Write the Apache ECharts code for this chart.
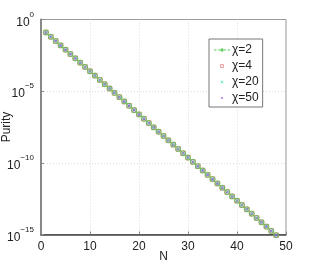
<!DOCTYPE html>
<html><head><meta charset="utf-8">
<script src="https://cdn.jsdelivr.net/npm/echarts@6/dist/echarts.min.js"></script>
<style>html,body{margin:0;padding:0;background:#fff}#c{width:316px;height:265px}</style>
</head><body><div id="c"></div>
<script>
const N = [1,2,3,4,5,6,7,8,9,10,11,12,13,14,15,16,17,18,19,20,21,22,23,24,25,26,27,28,29,30,31,32,33,34,35,36,37,38,39,40,41,42,43,44,45,46,47,48];
const purityChi2 = [0.125,0.0625,0.03125,0.015625,7.8125e-3,3.906e-3,1.953e-3,9.766e-4,4.883e-4,2.441e-4,1.221e-4,6.104e-5,3.052e-5,1.526e-5,7.629e-6,3.815e-6,1.907e-6,9.537e-7,4.768e-7,2.384e-7,1.192e-7,5.960e-8,2.980e-8,1.490e-8,7.451e-9,3.725e-9,1.863e-9,9.313e-10,4.657e-10,2.328e-10,1.164e-10,5.821e-11,2.910e-11,1.455e-11,7.276e-12,3.638e-12,1.819e-12,9.095e-13,4.547e-13,2.274e-13,1.137e-13,5.684e-14,2.842e-14,1.421e-14,7.105e-15,3.553e-15,1.776e-15,8.882e-16];
const purityChi4 = purityChi2.slice();
const purityChi20 = purityChi2.slice();
const purityChi50 = purityChi2.slice();
const seriesNames = ['χ=2','χ=4','χ=20','χ=50'];
const xTicks = [0,10,20,30,40,50];
const yTickExps = ['0','−5','−10','−15'];

const pairs = a => N.map((n,i)=>[n,a[i]]);
const xMark = 'path://M0,1.5L1.5,0L5,3.5L8.5,0L10,1.5L6.5,5L10,8.5L8.5,10L5,6.5L1.5,10L0,8.5L3.5,5Z';
// legend icons in a 16x8 box (corner specks fix the box)
const box = 'M0,0h0.01v0.01h-0.01z M15.99,7.99h0.01v0.01h-0.01z ';
const icon2 = 'path://' + box + 'M0,3.5h2.5v1h-2.5z M4,3.5h2v1h-2z M10,3.5h2v1h-2z M13.5,3.5h2.5v1h-2.5z M6.3,4a1.7,1.7 0 1,0 3.4,0a1.7,1.7 0 1,0 -3.4,0z';
const icon4 = 'path://' + box + 'M6.3,2.3h3.4v3.4h-3.4z M7.1,3.1v1.8h1.8v-1.8z';
const icon20 = 'path://' + box + 'M6.5,3L7,2.5L8,3.5L9,2.5L9.5,3L8.5,4L9.5,5L9,5.5L8,4.5L7,5.5L6.5,5L7.5,4z';
const icon50 = 'path://' + box + 'M7.1,4a0.9,0.9 0 1,0 1.8,0a0.9,0.9 0 1,0 -1.8,0z';

const chart = echarts.init(document.getElementById('c'));
const font = 'Liberation Sans, Arial, sans-serif';
chart.setOption({
  animation:false,
  textStyle:{fontFamily:font},
  grid:{left:41,right:30,top:19.5,bottom:30.5,outerBoundsMode:'none',containLabel:false,show:true,borderColor:'#999',borderWidth:1,backgroundColor:'#fff'},
  xAxis:{type:'value',min:0,max:50,interval:10,
    name:'N',nameLocation:'middle',nameGap:16,nameMoveOverlap:false,nameTextStyle:{color:'#222',fontSize:12},
    axisLine:{show:true,lineStyle:{color:'#444',width:1.5}},
    axisTick:{inside:true,length:3,lineStyle:{color:'#888'}},
    axisLabel:{color:'#222',fontSize:12,margin:6,formatter:v=>xTicks.includes(v)?String(v):''},
    splitLine:{show:true,showMinLine:false,showMaxLine:false,lineStyle:{color:'#ddd',type:[1,2],width:1}}},
  yAxis:{type:'log',logBase:10,min:1e-15,max:1,interval:5,
    name:'Purity',nameLocation:'middle',nameGap:28,nameMoveOverlap:false,nameTextStyle:{color:'#222',fontSize:12},
    axisLine:{show:true,lineStyle:{color:'#888',width:2}},
    axisTick:{inside:true,length:3,lineStyle:{color:'#888'}},
    axisLabel:{color:'#222',margin:7,formatter:v=>{
      const e=Math.round(Math.log10(v));
      const map={'0':yTickExps[0],'-5':yTickExps[1],'-10':yTickExps[2],'-15':yTickExps[3]};
      return '{b|10}{s|'+map[String(e)]+'}';},
      rich:{b:{fontSize:12,color:'#222',fontFamily:font,verticalAlign:'bottom',padding:[6,0,0,0]},s:{fontSize:8,color:'#222',fontFamily:font,verticalAlign:'top',padding:[0,0,6,0]}}},
    splitLine:{show:true,showMinLine:false,showMaxLine:false,lineStyle:{color:'#ddd',type:[1,2],width:1}}},
  legend:{left:209,top:39,orient:'vertical',itemGap:4,itemWidth:16,itemHeight:8,
    backgroundColor:'#fff',borderColor:'#777',borderWidth:1,padding:[5,4,3,5],
    itemStyle:{borderWidth:0},
    textStyle:{fontSize:12,color:'#222',fontFamily:font,padding:[0,0,0,-3]},
    data:[
      {name:seriesNames[0],icon:icon2,itemStyle:{color:'#5fcf5f'}},
      {name:seriesNames[1],icon:icon4,itemStyle:{color:'#e86060'}},
      {name:seriesNames[2],icon:icon20,itemStyle:{color:'#40e0a0'}},
      {name:seriesNames[3],icon:icon50,itemStyle:{color:'#8040e0'}}
    ]},
  series:[
    {name:seriesNames[0],type:'line',data:pairs(purityChi2),clip:false,
      lineStyle:{color:'#7fd87f',width:1,type:[4,3]},symbol:'circle',symbolSize:5,
      itemStyle:{color:'rgba(255,255,255,0)',borderColor:'#60c060',borderWidth:1}},
    {name:seriesNames[1],type:'scatter',data:pairs(purityChi4),clip:false,
      symbol:'rect',symbolSize:4.5,itemStyle:{color:'rgba(255,255,255,0)',borderColor:'#e07050',borderWidth:1}},
    {name:seriesNames[2],type:'scatter',data:pairs(purityChi20),clip:false,
      symbol:xMark,symbolSize:3.5,itemStyle:{color:'#60d0b0'}},
    {name:seriesNames[3],type:'scatter',data:pairs(purityChi50),clip:false,
      symbol:'circle',symbolSize:3,itemStyle:{color:'#9060d0'}}
  ]
});
</script></body></html>
